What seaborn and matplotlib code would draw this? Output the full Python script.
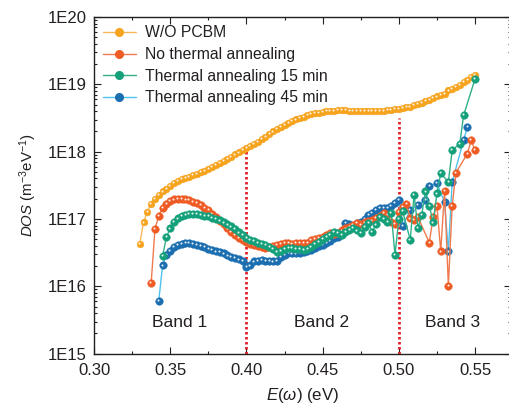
import numpy as np
import pandas as pd
import matplotlib
matplotlib.use("Agg")
import matplotlib.pyplot as plt
import matplotlib.transforms as mtransforms
from matplotlib.lines import Line2D
from matplotlib.ticker import LogLocator, FuncFormatter, MultipleLocator, NullFormatter
import seaborn as sns

# Photon energy grid (eV)
energy = [
    0.3300, 0.3325, 0.3350, 0.3375, 0.3400, 0.3425, 0.3450, 0.3475, 0.3500, 0.3525,
    0.3550, 0.3575, 0.3600, 0.3625, 0.3650, 0.3675, 0.3700, 0.3725, 0.3750, 0.3775,
    0.3800, 0.3825, 0.3850, 0.3875, 0.3900, 0.3925, 0.3950, 0.3975, 0.4000, 0.4025,
    0.4050, 0.4075, 0.4100, 0.4125, 0.4150, 0.4175, 0.4200, 0.4225, 0.4250, 0.4275,
    0.4300, 0.4325, 0.4350, 0.4375, 0.4400, 0.4425, 0.4450, 0.4475, 0.4500, 0.4525,
    0.4550, 0.4575, 0.4600, 0.4625, 0.4650, 0.4675, 0.4700, 0.4725, 0.4750, 0.4775,
    0.4800, 0.4825, 0.4850, 0.4875, 0.4900, 0.4925, 0.4950, 0.4975, 0.5000, 0.5025,
    0.5050, 0.5075, 0.5100, 0.5125, 0.5150, 0.5175, 0.5200, 0.5225, 0.5250, 0.5275,
    0.5300, 0.5325, 0.5350, 0.5375, 0.5400, 0.5425, 0.5450, 0.5475, 0.5500,
]

N = None
# log10 of the density of states (m^-3 eV^-1) on the grid above
log_dos_wo_pcbm = [
    16.63, 16.95, 17.11, 17.23, 17.30, 17.36, 17.41, 17.45, 17.49, 17.53,
    17.56, 17.59, 17.61, 17.63, 17.65, 17.67, 17.70, 17.72, 17.74, 17.77,
    17.80, 17.83, 17.86, 17.89, 17.92, 17.96, 17.99, 18.02, 18.06, 18.09,
    18.12, 18.15, 18.19, 18.22, 18.26, 18.30, 18.34, 18.37, 18.40, 18.43,
    18.46, 18.48, 18.50, 18.52, 18.54, 18.56, 18.57, 18.58, 18.59, 18.60,
    18.61, 18.61, 18.62, 18.62, 18.62, 18.61, 18.61, 18.60, 18.60, 18.60,
    18.60, 18.60, 18.60, 18.61, 18.61, 18.62, 18.62, 18.63, 18.64, 18.65,
    18.66, 18.67, 18.69, 18.71, 18.73, 18.75, 18.77, 18.80, 18.82, 18.84,
    18.86, 18.91, 18.93, 18.96, 18.99, 19.03, 19.07, 19.11, 19.14,
]
log_dos_no_anneal = [
    N, N, N, 16.05, 16.85, 17.05, 17.17, 17.23, 17.27, 17.29,
    17.30, 17.30, 17.29, 17.28, 17.26, 17.24, 17.21, 17.17, 17.13, 17.08,
    17.03, 16.97, 16.92, 16.86, 16.81, 16.76, 16.72, 16.69, 16.66, 16.63,
    16.61, 16.60, 16.58, 16.57, 16.58, 16.60, 16.62, 16.63, 16.64, 16.64,
    16.63, 16.64, 16.65, 16.64, 16.64, 16.69, 16.70, 16.72, 16.74, 16.77,
    16.79, 16.78, 16.79, 16.83, 16.86, 16.88, 16.91, 16.94, 16.92, 16.95,
    16.97, 16.98, 17.02, 17.05, 17.09, 17.06, 16.96, 16.93, 17.10, 17.18,
    17.22, 17.01, 16.99, 17.03, N, N, 16.65, 17.03, 17.20, 16.52,
    17.42, 16.01, 17.20, 17.69, N, N, 17.97, 18.17, 18.02,
]
log_dos_anneal_15 = [
    N, N, N, N, N, N, 16.45, 16.73, 16.86, 16.96,
    17.01, 17.04, 17.06, 17.07, 17.07, 17.07, 17.06, 17.05, 17.04, 17.02,
    17.00, 16.98, 16.95, 16.92, 16.89, 16.85, 16.80, 16.76, 16.72, 16.69,
    16.67, 16.65, 16.63, 16.61, 16.59, 16.55, 16.51, 16.53, 16.56, 16.57,
    16.57, 16.56, 16.55, 16.54, 16.55, 16.59, 16.63, 16.66, 16.70, 16.73,
    16.76, 16.81, 16.79, 16.76, 16.81, 16.84, 16.87, 16.83, 16.79, 16.88,
    16.94, 16.81, 16.92, 17.03, 17.00, 16.96, 17.09, 16.47, 17.00, 17.12,
    N, 16.69, 17.36, 16.87, 17.06, 17.41, 17.20, 16.95, 17.38, 17.68,
    N, 17.55, 18.02, N, 18.12, 18.54, N, N, 19.08,
]
log_dos_anneal_45 = [
    N, N, N, N, N, 15.79, 16.31, 16.47, 16.53, 16.59,
    16.62, 16.63, 16.64, 16.64, 16.63, 16.62, 16.60, 16.58, 16.56, 16.54,
    16.52, 16.51, 16.49, 16.46, 16.44, 16.42, 16.40, 16.38, 16.29, 16.31,
    16.37, 16.38, 16.39, 16.38, 16.38, 16.37, 16.38, 16.44, 16.47, 16.50,
    16.49, 16.49, 16.50, 16.51, 16.52, 16.54, 16.57, 16.60, 16.62, 16.64,
    16.68, 16.72, 16.74, 16.80, 16.94, 16.92, 16.90, 16.94, 16.96, 17.00,
    17.06, 17.09, 17.13, 17.16, 17.16, 17.16, 17.20, 17.24, 17.28, 16.90,
    N, 17.13, N, 17.21, N, 17.28, 17.49, N, 17.53, N,
    17.25, 16.52, 17.55, N, N, 18.17, 18.37, N, N,
]

series_names = ["W/O PCBM", "No thermal annealing",
                "Thermal annealing 15 min", "Thermal annealing 45 min"]
series_values = [log_dos_wo_pcbm, log_dos_no_anneal, log_dos_anneal_15, log_dos_anneal_45]

band_edges = [0.40, 0.50]
band_edge_tops = [18.07, 18.50]
band_labels = ["Band 1", "Band 2", "Band 3"]
band_label_x = [0.3565, 0.4495, 0.5350]
band_label_log_y = 15.47

marker_colors = {
    "W/O PCBM": "#F6A31E",
    "No thermal annealing": "#EE5B25",
    "Thermal annealing 15 min": "#14A07A",
    "Thermal annealing 45 min": "#1B6EB0",
}
line_colors = {
    "W/O PCBM": "#F8B75A",
    "No thermal annealing": "#F07A4E",
    "Thermal annealing 15 min": "#2FB088",
    "Thermal annealing 45 min": "#4EC3EE",
}
marker_sizes = {
    "W/O PCBM": 24,
    "No thermal annealing": 30,
    "Thermal annealing 15 min": 30,
    "Thermal annealing 45 min": 30,
}

frames = []
for name, vals in zip(series_names, series_values):
    frames.append(pd.DataFrame({"E": energy, "logDOS": vals, "sample": name}))
df = pd.concat(frames, ignore_index=True).dropna()
df["DOS"] = 10.0 ** df["logDOS"].astype(float)

sns.set_theme(style="ticks")
plt.rcParams["font.family"] = ["Liberation Sans", "DejaVu Sans"]
plt.rcParams["mathtext.fontset"] = "custom"
plt.rcParams["mathtext.rm"] = "Liberation Sans"
plt.rcParams["mathtext.it"] = "Liberation Sans:italic"
plt.rcParams["mathtext.bf"] = "Liberation Sans:bold"

W, H = 510, 409
fig = plt.figure(figsize=(W / 100, H / 100), dpi=100)
ax_left, ax_right, ax_top, ax_bottom = 94, 511, 17, 353.7
ax = fig.add_axes([ax_left / W, (H - ax_bottom) / H,
                   (ax_right - ax_left) / W, (ax_bottom - ax_top) / H])

text_color = "#231F20"
tick_fs = 12
legend_fs = 11.3
band_fs = 12.5

# band separators
for x0, top in zip(band_edges, band_edge_tops):
    ax.vlines(x0, 1e15, 10 ** top, colors="#E4222B", linestyles=(0, (0.9, 0.9)),
              linewidth=2.0, zorder=1)

highlight = ax.transData + mtransforms.ScaledTranslation(-0.55 / 72, 0.6 / 72,
                                                         fig.dpi_scale_trans)
draw_order = ["W/O PCBM", "Thermal annealing 45 min", "No thermal annealing",
              "Thermal annealing 15 min"]
for i, name in enumerate(draw_order):
    sub = df[df["sample"] == name]
    z = 2 + i * 3
    sns.lineplot(data=sub, x="E", y="DOS", ax=ax, color=line_colors[name],
                 linewidth=1.0, sort=False, estimator=None, legend=False, zorder=z)
    sns.scatterplot(data=sub, x="E", y="DOS", ax=ax, color=marker_colors[name],
                    s=marker_sizes[name], edgecolor=marker_colors[name],
                    linewidth=0.3, legend=False, zorder=z + 1)
    sns.scatterplot(data=sub, x="E", y="DOS", ax=ax, color="white",
                    s=2.2, linewidth=0, alpha=0.9, legend=False, zorder=z + 2,
                    transform=highlight)

ax.set_yscale("log")
ax.set_xlim(0.30, 0.5736)
ax.set_ylim(1e15, 1e20)
ax.xaxis.set_major_locator(MultipleLocator(0.05))
ax.xaxis.set_minor_locator(MultipleLocator(0.025))
ax.xaxis.set_major_formatter(FuncFormatter(lambda v, p: f"{v:.2f}"))
ax.yaxis.set_major_locator(LogLocator(base=10, numticks=10))
ax.yaxis.set_minor_locator(LogLocator(base=10, subs=np.arange(2, 10), numticks=20))
ax.yaxis.set_minor_formatter(NullFormatter())
ax.yaxis.set_major_formatter(FuncFormatter(lambda v, p: f"1E{int(round(np.log10(v)))}"))

ax.tick_params(which="both", direction="in", top=True, right=True,
               colors=text_color, labelsize=tick_fs, width=0.8)
ax.tick_params(which="major", length=5)
ax.tick_params(which="minor", length=2.5)
ax.tick_params(axis="x", pad=7.0)
ax.tick_params(axis="y", pad=5.5)
for sp in ax.spines.values():
    sp.set_color(text_color)
    sp.set_linewidth(1.0)

ax.set_xlabel(r"$\mathit{E(\omega)}$ (eV)", fontsize=12.2, color=text_color, labelpad=5.5)
ax.set_ylabel(r"$\mathit{DOS}$ (m$^{-3}$eV$^{-1}$)", fontsize=10.8, color=text_color,
              labelpad=6)

for lab, xl in zip(band_labels, band_label_x):
    ax.text(xl, 10 ** band_label_log_y, lab, ha="center", va="center",
            fontsize=band_fs, color=text_color)

handles = [Line2D([0], [0], color=line_colors[n], lw=1.0, marker="o", markersize=5.5,
                  markerfacecolor=marker_colors[n], markeredgecolor=marker_colors[n])
           for n in series_names]
leg = ax.legend(handles, series_names, loc="upper left",
                bbox_to_anchor=(0.0216, 0.975), frameon=False, fontsize=legend_fs,
                borderpad=0, borderaxespad=0, handlelength=2.1, handletextpad=0.6,
                labelspacing=0.42)
for t in leg.get_texts():
    t.set_color(text_color)

fig.savefig("out.png", dpi=100)
